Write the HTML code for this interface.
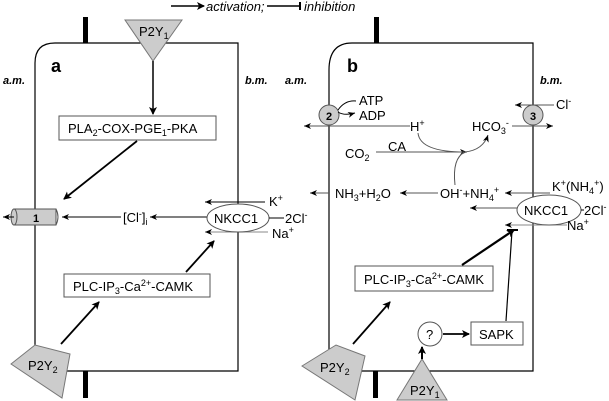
<!DOCTYPE html>
<html><head><style>body{margin:0;background:#fff}svg{display:block}text{font-family:"Liberation Sans",sans-serif;fill:#000}</style></head><body>
<svg width="609" height="401" viewBox="0 0 609 401" font-size="13">
<defs>
<marker id="ah" markerWidth="8" markerHeight="8" refX="7" refY="4" orient="auto" markerUnits="userSpaceOnUse"><path d="M0,0 L8,4 L0,8 L2,4z" fill="#000"/></marker>
<marker id="as" markerWidth="8" markerHeight="8" refX="7" refY="4" orient="auto" markerUnits="userSpaceOnUse"><path d="M0,1 L7,4 L0,7 L2,4z" fill="#000"/></marker>
</defs>
<!-- legend -->
<line x1="171" y1="6" x2="204" y2="6" stroke="#000" stroke-width="1.5" marker-end="url(#ah)"/>
<text x="206" y="11" font-style="italic">activation;</text>
<line x1="267" y1="6" x2="299" y2="6" stroke="#000" stroke-width="1.5"/><line x1="300" y1="2" x2="300" y2="10" stroke="#000" stroke-width="2"/>
<text x="304" y="11" font-style="italic">inhibition</text>

<!-- panel a -->
<path d="M35,371 V63 Q35,43 55,43 H238 V371 Z" fill="none" stroke="#000" stroke-width="1.2"/>
<rect x="83" y="17" width="5" height="26" fill="#000"/>
<rect x="83" y="371" width="5" height="27" fill="#000"/>
<text x="3" y="84" font-size="11" font-weight="bold" font-style="italic">a.m.</text>
<text x="245" y="84" font-size="11" font-weight="bold" font-style="italic">b.m.</text>
<text x="51" y="72" font-size="18" font-weight="bold">a</text>
<polygon points="125,20 182,20 153,61" fill="#ccc" stroke="#777"/>
<text x="139" y="36">P2Y<tspan font-size="9" dy="3">1</tspan></text>
<line x1="153" y1="61" x2="153" y2="114" stroke="#000" stroke-width="1.5" marker-end="url(#ah)"/>
<rect x="59" y="116" width="157" height="24" fill="#fff" stroke="#555"/>
<text x="68" y="133">PLA<tspan font-size="9" dy="3">2</tspan><tspan dy="-3">-COX-PGE</tspan><tspan font-size="9" dy="3">1</tspan><tspan dy="-3">-PKA</tspan></text>
<line x1="137" y1="141" x2="64" y2="199" stroke="#000" stroke-width="1.8" marker-end="url(#ah)"/>
<!-- cylinder -->
<rect x="14" y="209" width="42" height="16" fill="#ccc" stroke="#555"/>
<ellipse cx="14" cy="217" rx="3" ry="8" fill="#ccc" stroke="#555"/>
<path d="M56,209 Q60,217 56,225" fill="none" stroke="#555"/>
<text x="33" y="222" font-size="11" font-weight="bold">1</text>
<line x1="14" y1="217" x2="3" y2="217" stroke="#000" marker-end="url(#as)"/>
<line x1="121" y1="217" x2="62" y2="217" stroke="#000" marker-end="url(#as)"/>
<text x="123" y="222">[Cl<tspan font-size="9" dy="-5">-</tspan><tspan dy="5">]</tspan><tspan font-size="9" dy="3">i</tspan></text>
<line x1="207" y1="217" x2="150" y2="217" stroke="#000" marker-end="url(#as)"/>
<line x1="265" y1="202" x2="205" y2="202" stroke="#000" marker-end="url(#as)"/>
<line x1="268" y1="232" x2="205" y2="232" stroke="#888" marker-end="url(#as)"/>
<ellipse cx="238" cy="218" rx="31" ry="14" fill="#fff" stroke="#555"/>
<text x="214" y="223">NKCC1</text>
<line x1="269" y1="218" x2="284" y2="218" stroke="#000"/>
<text x="269" y="206">K<tspan font-size="9" dy="-5">+</tspan></text>
<text x="285" y="223">2Cl<tspan font-size="9" dy="-5">-</tspan></text>
<text x="272" y="238">Na<tspan font-size="9" dy="-5">+</tspan></text>
<rect x="64" y="274" width="146" height="23" fill="#fff" stroke="#555"/>
<text x="73" y="291">PLC-IP<tspan font-size="9" dy="3">3</tspan><tspan dy="-3">-Ca</tspan><tspan font-size="9" dy="-5">2+</tspan><tspan dy="5">-CAMK</tspan></text>
<line x1="186" y1="272" x2="214" y2="241" stroke="#000" stroke-width="1.8" marker-end="url(#ah)"/>
<polygon points="11,364 35,345 70,354 62,398" fill="#ccc" stroke="#777"/>
<text x="28" y="370">P2Y<tspan font-size="9" dy="3">2</tspan></text>
<line x1="61" y1="344" x2="99" y2="302" stroke="#000" stroke-width="1.8" marker-end="url(#ah)"/>

<!-- panel b -->
<path d="M329,371 V70 Q329,43 352,43 H533 V371 Z" fill="none" stroke="#000" stroke-width="1.2"/>
<rect x="374" y="17" width="5" height="26" fill="#000"/>
<rect x="373" y="371" width="5" height="27" fill="#000"/>
<text x="285" y="84" font-size="11" font-weight="bold" font-style="italic">a.m.</text>
<text x="540" y="84" font-size="11" font-weight="bold" font-style="italic">b.m.</text>
<text x="347" y="72" font-size="18" font-weight="bold">b</text>
<line x1="410" y1="126" x2="304" y2="126" stroke="#555" marker-end="url(#as)"/>
<circle cx="329" cy="115" r="10" fill="#ccc" stroke="#555"/>
<text x="326" y="120" font-size="11" font-weight="bold">2</text>
<path d="M338,110 Q345,100 356,101" fill="none" stroke="#000"/>
<path d="M338,112 Q344,116 355,113" fill="none" stroke="#000" marker-end="url(#as)"/>
<text x="359" y="105">ATP</text>
<text x="359" y="120">ADP</text>
<text x="410" y="131">H<tspan font-size="9" dy="-5">+</tspan></text>
<text x="472" y="131">HCO<tspan font-size="9" dy="3">3</tspan><tspan font-size="9" dy="-8">-</tspan></text>
<line x1="512" y1="126" x2="553" y2="126" stroke="#555" marker-end="url(#as)"/>
<line x1="554" y1="105" x2="515" y2="105" stroke="#555" marker-end="url(#as)"/>
<circle cx="533" cy="115" r="10" fill="#ccc" stroke="#555"/>
<text x="530" y="120" font-size="11" font-weight="bold">3</text>
<text x="556" y="109">Cl<tspan font-size="9" dy="-5">-</tspan></text>
<text x="345" y="158">CO<tspan font-size="9" dy="3">2</tspan></text>
<text x="388" y="151">CA</text>
<line x1="376" y1="152" x2="467" y2="152" stroke="#555" marker-end="url(#as)"/>
<path d="M418,133 Q420,152 465,152 Q483,150 488,135" fill="none" stroke="#555" marker-end="url(#as)"/>
<path d="M455,185 Q452,158 465,152" fill="none" stroke="#555"/>
<line x1="329" y1="193" x2="310" y2="193" stroke="#555" marker-end="url(#as)"/>
<text x="335" y="198">NH<tspan font-size="9" dy="3">3</tspan><tspan dy="-3">+H</tspan><tspan font-size="9" dy="3">2</tspan><tspan dy="-3">O</tspan></text>
<line x1="438" y1="193" x2="400" y2="193" stroke="#555" marker-end="url(#as)"/>
<text x="440" y="198">OH<tspan font-size="9" dy="-5">-</tspan><tspan dy="5">+NH</tspan><tspan font-size="9" dy="3">4</tspan><tspan font-size="9" dy="-8">+</tspan></text>
<line x1="550" y1="193" x2="505" y2="193" stroke="#555" marker-end="url(#as)"/>
<text x="552" y="191">K<tspan font-size="9" dy="-5">+</tspan><tspan dy="5">(NH</tspan><tspan font-size="9" dy="3">4</tspan><tspan font-size="9" dy="-8">+</tspan><tspan dy="5">)</tspan></text>
<line x1="517" y1="208" x2="470" y2="208" stroke="#555" marker-end="url(#as)"/>
<line x1="567" y1="225" x2="505" y2="225" stroke="#888" marker-end="url(#as)"/>
<ellipse cx="549" cy="210" rx="32" ry="15" fill="#fff" stroke="#555"/>
<text x="524" y="215">NKCC1</text>
<line x1="581" y1="210" x2="584" y2="210" stroke="#000"/>
<text x="584" y="215">2Cl<tspan font-size="9" dy="-5">-</tspan></text>
<text x="567" y="230">Na<tspan font-size="9" dy="-5">+</tspan></text>
<rect x="355" y="266" width="138" height="25" fill="#fff" stroke="#555"/>
<text x="364" y="284">PLC-IP<tspan font-size="9" dy="3">3</tspan><tspan dy="-3">-Ca</tspan><tspan font-size="9" dy="-5">2+</tspan><tspan dy="5">-CAMK</tspan></text>
<line x1="462" y1="265" x2="514" y2="230" stroke="#000" stroke-width="2.2" marker-end="url(#ah)"/>
<line x1="506" y1="321" x2="512" y2="231" stroke="#000" stroke-width="1.2"/>
<line x1="507" y1="230" x2="518" y2="230" stroke="#000" stroke-width="2"/>
<rect x="471" y="322" width="52" height="23" fill="#fff" stroke="#555"/>
<text x="479" y="339">SAPK</text>
<circle cx="430" cy="334" r="12" fill="#fff" stroke="#555"/>
<text x="426" y="339">?</text>
<line x1="443" y1="334" x2="469" y2="334" stroke="#000" stroke-width="1.8" marker-end="url(#ah)"/>
<polygon points="397,400 447,400 422,359" fill="#ccc" stroke="#777"/>
<text x="410" y="395">P2Y<tspan font-size="9" dy="3">1</tspan></text>
<line x1="422" y1="359" x2="422" y2="347" stroke="#000" stroke-width="2" marker-end="url(#ah)"/>
<polygon points="302,366 336,345 365,356 355,400" fill="#ccc" stroke="#777"/>
<text x="320" y="372">P2Y<tspan font-size="9" dy="3">2</tspan></text>
<line x1="353" y1="344" x2="390" y2="302" stroke="#000" stroke-width="1.8" marker-end="url(#ah)"/>
</svg>
</body></html>
